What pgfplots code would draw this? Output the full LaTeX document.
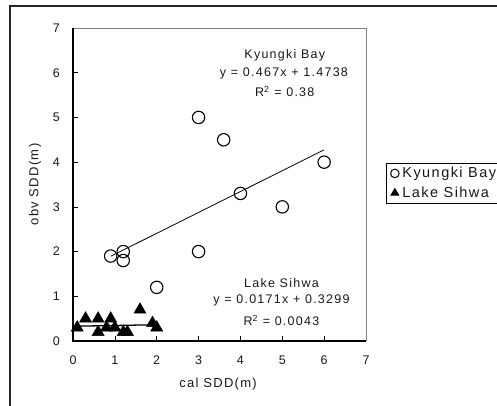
\documentclass[border=0pt]{standalone}
\usepackage{pgfplots}
\pgfplotsset{compat=1.18}
\usepackage{fontspec}
\setmainfont{Liberation Sans}[LetterSpace=10]
\newcommand\fTick{\fontsize{12.5pt}{14pt}\selectfont}
\newcommand\fAnn{\fontsize{12.5pt}{14pt}\selectfont}
\newcommand\fLab{\fontsize{13pt}{15pt}\selectfont}
\newcommand\fLeg{\fontsize{14.5pt}{16pt}\selectfont}
\begin{document}
\begin{tikzpicture}[x=1pt,y=1pt]
\useasboundingbox (0,0) rectangle (497,405);
\clip (0,0) rectangle (497,405);
\draw[line width=1.6pt, black!85] (10,-10) -- (10,399) -- (520,399);
\begin{axis}[
  at={(73pt,64pt)}, anchor=origin, scale only axis,
  width=293pt, height=313pt,
  xmin=0, xmax=7, ymin=0, ymax=7,
  xtick={0,...,7}, ytick={0,...,7},
  xtick pos=bottom, ytick pos=left,
  tick align=inside, major tick length=5pt,
  tick style={black, line width=0.6pt},
  axis line style={draw=none},
  clip=false,
  /pgf/number format/assume math mode=true,
  ticklabel style={font=\fTick, text=black!90},
  yticklabel style={inner sep=0pt, xshift=-13pt},
  xticklabel style={inner sep=0pt, yshift=-15pt},
  xlabel={cal SDD(m)}, ylabel={obv SDD(m)},
  xlabel style={font=\fLab, text=black!90, at={(axis description cs:0.495,0)}, anchor=center, yshift=-43pt},
  ylabel style={font=\fLab, text=black!90, at={(axis description cs:-0.13,0.5)}, anchor=center},
  legend style={at={(axis description cs:1.068,0.5687)}, anchor=north west,
    draw=black, line width=0.8pt, font=\fLeg, text=black!90,
    inner xsep=1pt, inner ysep=2pt, row sep=3.5pt, column sep=0pt,
    cells={anchor=west}},
  legend image code/.code={\path (-7pt,0pt) (5pt,0pt); \draw[#1, mark size=4.3pt, line width=1pt] plot coordinates {(0pt,0pt)};},
]
\draw[black!50, line width=0.8pt] (rel axis cs:0,1) -- (rel axis cs:1,1) -- (rel axis cs:1,0);
\draw[black, line width=1.2pt] (rel axis cs:0,1) -- (rel axis cs:0,0) -- (rel axis cs:1,0);
\addplot[only marks, mark=o, mark size=6.2pt, line width=1.1pt, black] coordinates {
(0.9,1.9) (1.2,2.0) (1.2,1.8) (2.0,1.2) (3.0,5.0) (3.6,4.5) (3.0,2.0) (4.0,3.3) (5.0,3.0) (6.0,4.0)
};
\addlegendentry{\makebox[110pt][l]{Kyungki Bay}}
\addplot[only marks, mark=triangle*, mark size=7pt, black] coordinates {
(0.1,0.3) (0.3,0.5) (0.6,0.5) (0.6,0.2) (0.8,0.3) (0.9,0.5) (1.0,0.3) (1.2,0.2) (1.3,0.2) (1.6,0.7) (1.9,0.4) (2.0,0.3)
};
\addlegendentry{\makebox[110pt][l]{Lake Sihwa}}
\addplot[black, line width=0.8pt, no marks, forget plot] coordinates {(0.9,1.8941) (6.0,4.2758)};
\addplot[black, line width=1.3pt, no marks, forget plot] coordinates {(0.1,0.3316) (2.0,0.3641)};
\node[font=\fAnn, text=black!90] at (axis cs:5.06,6.4) {Kyungki Bay};
\node[font=\fAnn, text=black!90] at (axis cs:5.04,5.99) {y = 0.467x + 1.4738};
\node[font=\fAnn, text=black!90] at (axis cs:5.06,5.58) {R\textsuperscript{2} = 0.38};
\node[font=\fAnn, text=black!90] at (axis cs:4.98,1.3) {Lake Sihwa};
\node[font=\fAnn, text=black!90] at (axis cs:4.98,0.9) {y = 0.0171x + 0.3299};
\node[font=\fAnn, text=black!90] at (axis cs:4.98,0.46) {R\textsuperscript{2} = 0.0043};
\end{axis}
\end{tikzpicture}
\end{document}
